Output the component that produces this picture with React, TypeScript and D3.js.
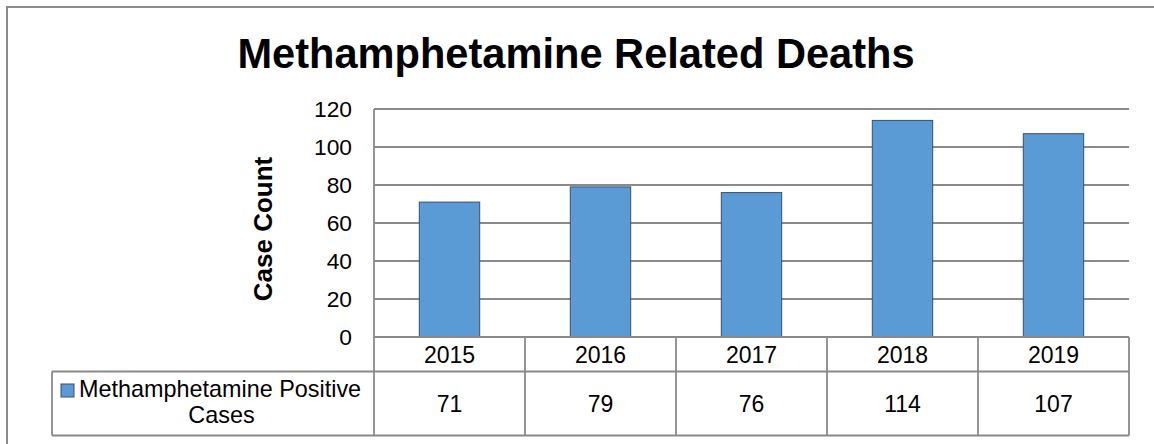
import React from "react";
import * as d3 from "d3";

const years = ["2015", "2016", "2017", "2018", "2019"];
const positiveCases = [71, 79, 76, 114, 107];
const yTicks = [0, 20, 40, 60, 80, 100, 120];
const chartTitle = "Methamphetamine Related Deaths";
const yTitle = "Case Count";
const seriesName = ["Methamphetamine Positive", "Cases"];

const W = 1154;
const H = 444;
const FONT = "'Liberation Sans', Arial, sans-serif";
const GRID = "#8a8a8a";
const BAR = "#5B9BD5";

export default function App() {
  const plotLeft = 374;
  const plotRight = 1129;
  const plotTop = 109;
  const plotBottom = 337;
  const row1Bottom = 371.5;
  const row2Bottom = 435.5;
  const legendLeft = 52;

  const x = d3.scaleBand<string>().domain(years).range([plotLeft, plotRight]).padding(0);
  const y = d3.scaleLinear().domain([0, 120]).range([plotBottom, plotTop]);
  const bw = x.bandwidth();
  const barW = bw * 0.4;

  return (
    <svg
      width={W}
      height={H}
      style={{ position: "absolute", left: 0, top: 0, background: "#fff" }}
      fontFamily={FONT}
    >
      <rect x={0} y={0} width={W} height={H} fill="#fff" />
      {/* outer chart border (cropped at right/bottom) */}
      <rect x={7} y={7} width={1300} height={600} fill="none" stroke="#8c8c8c" strokeWidth={2} />

      <text x={576} y={67.5} textAnchor="middle" fontSize={41.6} fontWeight="bold" fill="#000">
        {chartTitle}
      </text>

      {/* gridlines */}
      {yTicks.map((t) => (
        <line key={"g" + t} x1={plotLeft} x2={plotRight} y1={y(t)} y2={y(t)} stroke={GRID} strokeWidth={1.8} />
      ))}
      {/* y tick labels */}
      {yTicks.map((t) => (
        <text key={"t" + t} x={352} y={y(t) + 8} textAnchor="end" fontSize={22.8} fill="#000">
          {t}
        </text>
      ))}
      <text
        transform={`translate(272,229) rotate(-90)`}
        textAnchor="middle"
        fontSize={26}
        fontWeight="bold"
        fill="#000"
      >
        {yTitle}
      </text>

      {/* bars */}
      {years.map((yr, i) => (
        <rect
          key={"b" + yr}
          x={(x(yr) as number) + (bw - barW) / 2}
          y={y(positiveCases[i])}
          width={barW}
          height={plotBottom - y(positiveCases[i])}
          fill={BAR}
          stroke="#3a4f6a"
          strokeWidth={1}
        />
      ))}

      {/* data table */}
      <line x1={plotLeft} x2={plotLeft} y1={plotTop} y2={row2Bottom} stroke={GRID} strokeWidth={1.8} />
      <line x1={plotLeft} x2={plotRight} y1={plotBottom} y2={plotBottom} stroke={GRID} strokeWidth={1.8} />
      <line x1={legendLeft} x2={plotRight} y1={row1Bottom} y2={row1Bottom} stroke={GRID} strokeWidth={1.8} />
      <line x1={legendLeft} x2={plotRight} y1={row2Bottom} y2={row2Bottom} stroke={GRID} strokeWidth={1.8} />
      <line x1={legendLeft} x2={legendLeft} y1={row1Bottom} y2={row2Bottom} stroke={GRID} strokeWidth={1.8} />
      {years.map((yr) => (
        <line
          key={"c" + yr}
          x1={(x(yr) as number) + bw}
          x2={(x(yr) as number) + bw}
          y1={plotBottom}
          y2={row2Bottom}
          stroke={GRID}
          strokeWidth={1.8}
        />
      ))}
      {years.map((yr) => (
        <text
          key={"yl" + yr}
          x={(x(yr) as number) + bw / 2}
          y={362.5}
          textAnchor="middle"
          fontSize={23}
          fill="#000"
        >
          {yr}
        </text>
      ))}
      {years.map((yr, i) => (
        <text
          key={"v" + yr}
          x={(x(yr) as number) + bw / 2}
          y={411.8}
          textAnchor="middle"
          fontSize={23}
          fill="#000"
        >
          {positiveCases[i]}
        </text>
      ))}

      {/* legend key in table */}
      <rect x={61} y={384} width={13} height={13} fill={BAR} stroke="#3a4f6a" strokeWidth={1} />
      <text x={79} y={396.7} fontSize={23.4} fill="#000">
        {seriesName[0]}
      </text>
      <text x={221.5} y={422.7} textAnchor="middle" fontSize={23.4} fill="#000">
        {seriesName[1]}
      </text>
    </svg>
  );
}
